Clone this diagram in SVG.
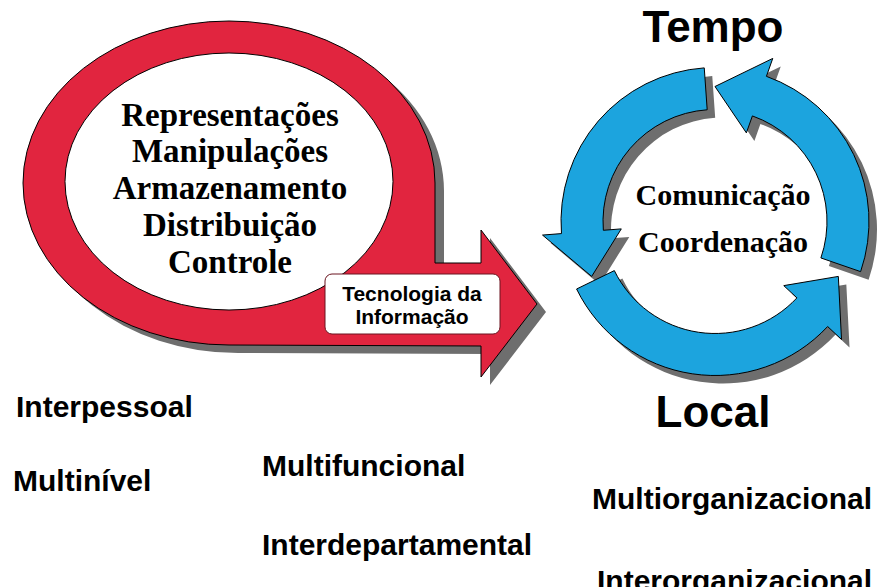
<svg xmlns="http://www.w3.org/2000/svg" width="883" height="587" viewBox="0 0 883 587">
<style>
.shadow{fill:#6e6e6e;stroke:none}
.red{fill:#e1253f;stroke:#000;stroke-width:1}
.blue{fill:#1ca4de;stroke:#000;stroke-width:1}
.serif{font-family:"Liberation Serif","Times New Roman",serif;font-weight:bold;fill:#000;text-anchor:middle}
.sans{font-family:"Liberation Sans",Arial,sans-serif;font-weight:bold;fill:#000}
</style>
<defs>
<path id="redShape" d="M435 183 L435 263 L481 263 L481 230 L537 304 L481 377 L481 346 L229 345 A206 162 0 0 1 23 183 A206 162 0 0 1 229 21 A206 162 0 0 1 435 183 Z"/>
<path id="arrowA" d="M704.26 67.88 A154 154 0 0 0 561.47 233.58 L542.53 235.07 L591.67 276.41 L621.29 228.88 L603.34 230.29 A112 112 0 0 1 707.19 109.77 Z"/>
<path id="arrowB" d="M576.59 289.01 A154 154 0 0 0 827.63 326.53 L841.52 339.49 L838.33 276.41 L783.75 285.61 L796.91 297.88 A112 112 0 0 1 614.34 270.60 Z"/>
<path id="arrowC" d="M860.61 271.64 A154 154 0 0 0 766.41 76.33 L772.75 58.42 L715 86.5 L746.38 132.89 L752.39 115.92 A112 112 0 0 1 820.90 257.96 Z"/>
</defs>
<g id="it-loop">
<use href="#redShape" class="shadow" transform="translate(9 8)"/>
<use href="#redShape" class="red"/>
<ellipse cx="229" cy="181.5" rx="164" ry="128.5" fill="#fff" stroke="#000" stroke-width="1"/>
<text class="serif" font-size="33"><tspan x="230" y="125.5">Representações</tspan><tspan x="230" y="162.3">Manipulações</tspan><tspan x="230" y="199.1">Armazenamento</tspan><tspan x="230" y="235.9">Distribuição</tspan><tspan x="230" y="272.7">Controle</tspan></text>
</g>
<g id="it-label">
<rect x="325" y="274" width="175" height="60" rx="7" fill="#fff" stroke="#6b1520" stroke-width="1"/>
<text class="sans" font-size="21" text-anchor="middle"><tspan x="412" y="301">Tecnologia da</tspan><tspan x="412" y="324">Informação</tspan></text>
</g>
<g id="cycle">
<use href="#arrowA" class="shadow" transform="translate(8 8)"/>
<use href="#arrowB" class="shadow" transform="translate(8 8)"/>
<use href="#arrowC" class="shadow" transform="translate(8 8)"/>
<use href="#arrowA" class="blue"/>
<use href="#arrowB" class="blue"/>
<use href="#arrowC" class="blue"/>
<text class="serif" font-size="30"><tspan x="723" y="205">Comunicação</tspan><tspan x="723" y="252">Coordenação</tspan></text>
</g>
<g id="labels" class="sans">
<text x="713" y="42" font-size="44" text-anchor="middle">Tempo</text>
<text x="713" y="427" font-size="44" text-anchor="middle">Local</text>
<text x="16" y="417" font-size="30">Interpessoal</text>
<text x="13" y="491" font-size="30">Multinível</text>
<text x="262" y="476" font-size="30">Multifuncional</text>
<text x="262" y="555" font-size="30">Interdepartamental</text>
<text x="592" y="509" font-size="30">Multiorganizacional</text>
<text x="597" y="591" font-size="30">Interorganizacional</text>
</g>
</svg>
